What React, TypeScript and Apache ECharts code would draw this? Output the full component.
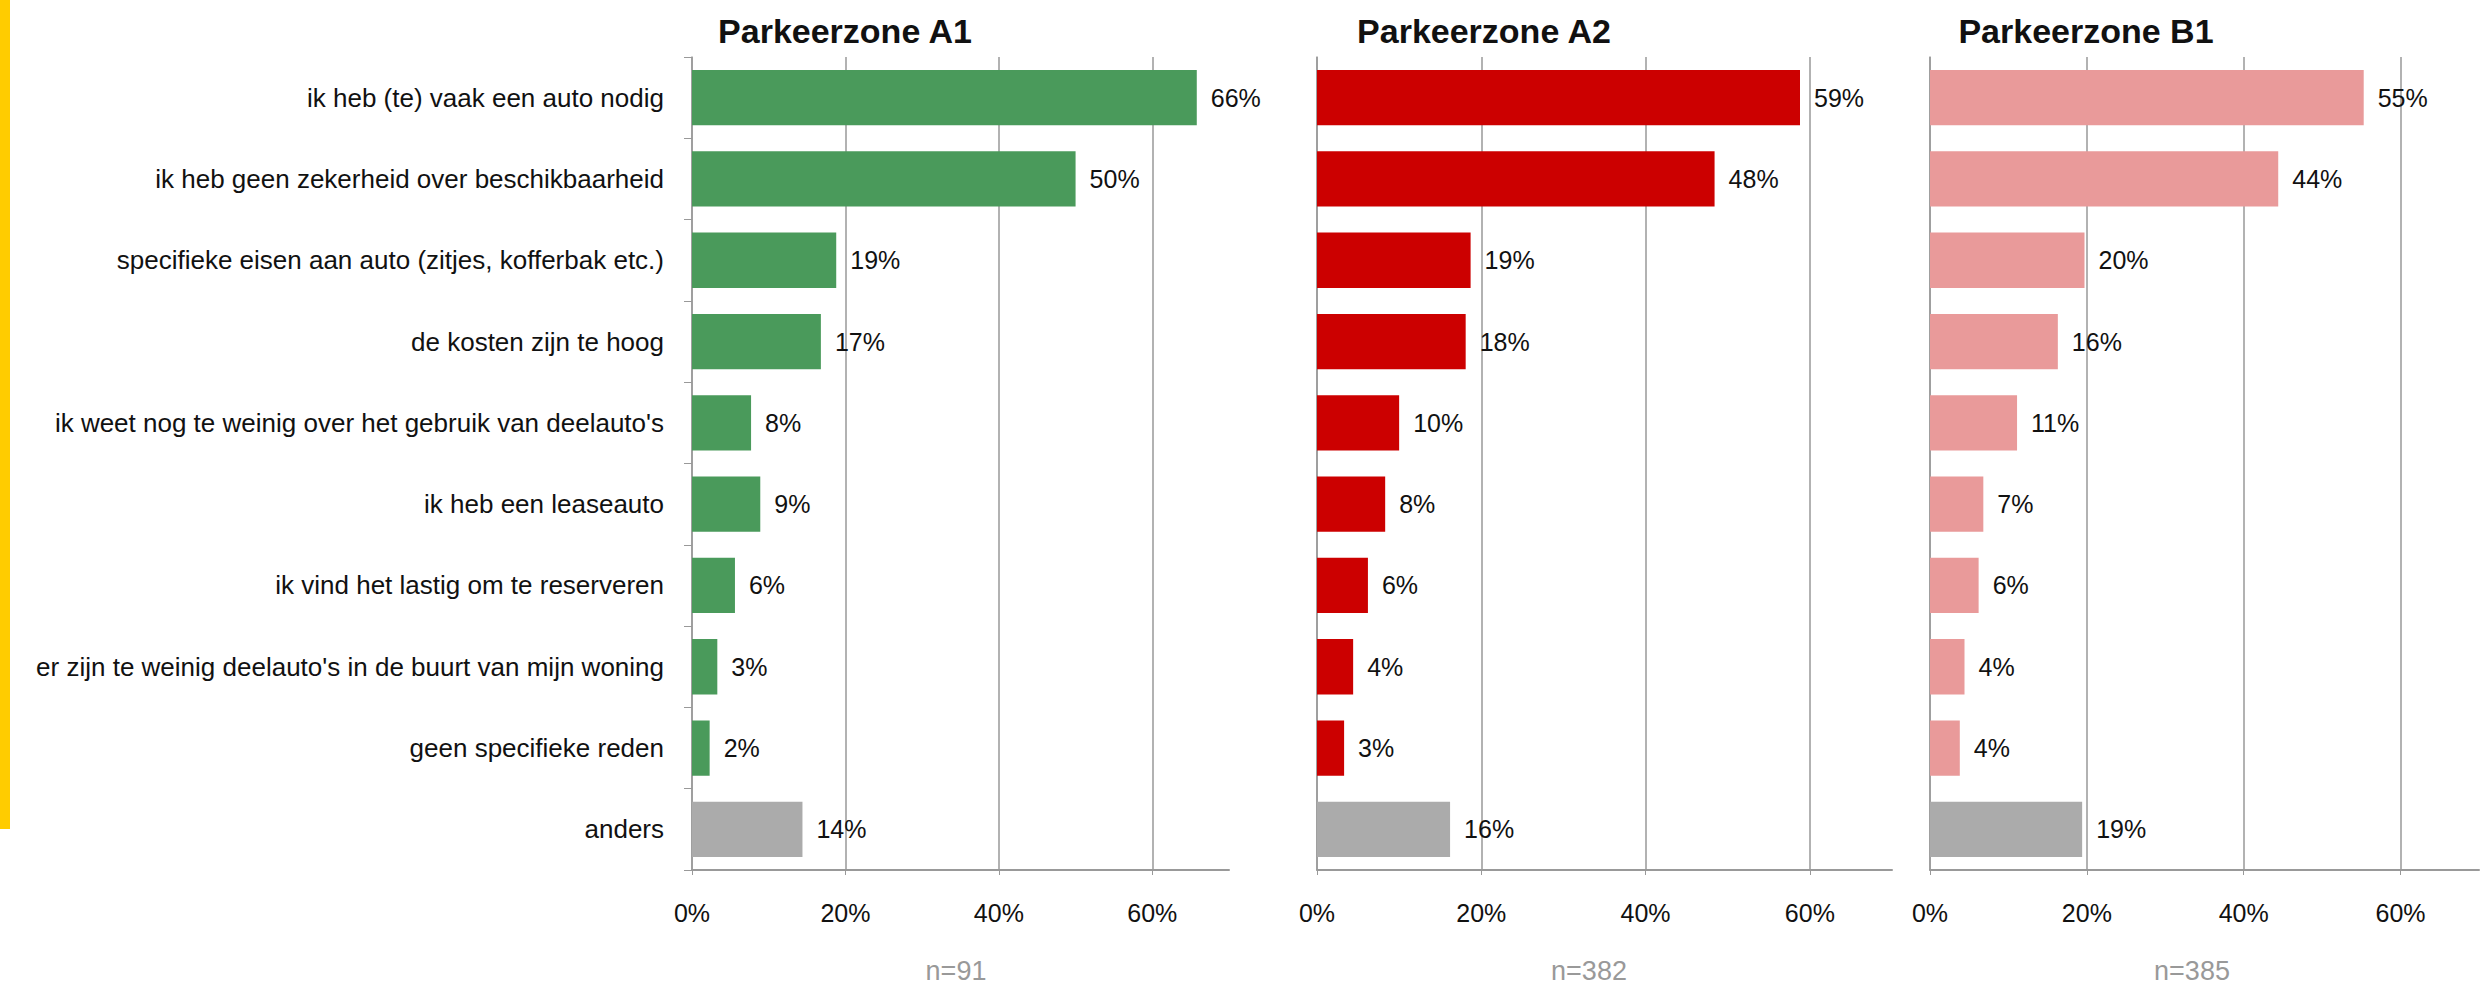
import React, { useEffect, useRef } from "react";
import * as echarts from "echarts";

const categories = [
  "ik heb (te) vaak een auto nodig",
  "ik heb geen zekerheid over beschikbaarheid",
  "specifieke eisen aan auto (zitjes, kofferbak etc.)",
  "de kosten zijn te hoog",
  "ik weet nog te weinig over het gebruik van deelauto's",
  "ik heb een leaseauto",
  "ik vind het lastig om te reserveren",
  "er zijn te weinig deelauto's in de buurt van mijn woning",
  "geen specifieke reden",
  "anders",
];

const zoneA1 = [65.8, 50.0, 18.8, 16.8, 7.7, 8.9, 5.6, 3.3, 2.3, 14.4];
const zoneA2 = [58.8, 48.4, 18.7, 18.1, 10.0, 8.3, 6.2, 4.4, 3.3, 16.2];
const zoneB1 = [55.3, 44.4, 19.7, 16.3, 11.1, 6.8, 6.2, 4.4, 3.8, 19.4];

const titles = ["Parkeerzone A1", "Parkeerzone A2", "Parkeerzone B1"];
const sampleSizes = ["n=91", "n=382", "n=385"];
const xTicks = [0, 20, 40, 60];

const FONT = "Liberation Sans, Arial, sans-serif";

export default function App() {
  const ref = useRef<HTMLDivElement>(null);

  useEffect(() => {
    if (!ref.current) return;
    const chart = echarts.init(ref.current, null, { renderer: "svg" });

    const panels = [
      { data: zoneA1, color: "#4a9a5b", left: 692, width: 537, titleX: 845, nX: 956 },
      { data: zoneA2, color: "#cc0000", left: 1317, width: 575, titleX: 1484, nX: 1589 },
      { data: zoneB1, color: "#e99a9a", left: 1930, width: 549, titleX: 2086, nX: 2192 },
    ];
    const top = 57;
    const height = 813;

    const grid = panels.map((p) => ({ left: p.left, width: p.width, top, height, containLabel: false }));

    const xAxis = panels.map((p, i) => ({
      type: "value",
      gridIndex: i,
      min: 0,
      max: 70,
      interval: 20,
      axisLine: { show: true, lineStyle: { color: "#999", width: 2 } },
      axisTick: { show: true, length: 5, lineStyle: { color: "#999" } },
      axisLabel: {
        show: true,
        showMaxLabel: false,
        margin: 30,
        fontSize: 25,
        fontFamily: FONT,
        color: "#111",
        formatter: (v: number) => (xTicks.includes(v) ? v + "%" : ""),
      },
      splitLine: { show: true, showMaxLine: false, lineStyle: { color: "#999", width: 1.5 } },
    }));

    const yAxis = panels.map((p, i) => ({
      type: "category",
      gridIndex: i,
      data: categories,
      inverse: true,
      axisLine: { show: true, lineStyle: { color: "#999", width: 1.5 } },
      axisTick: { show: i === 0, length: 8, lineStyle: { color: "#999" } },
      axisLabel: {
        show: i === 0,
        margin: 28,
        fontSize: 26,
        fontFamily: FONT,
        color: "#111",
      },
    }));

    const series = panels.map((p, i) => ({
      type: "bar",
      xAxisIndex: i,
      yAxisIndex: i,
      barWidth: "68%",
      data: p.data.map((v, j) => ({
        value: v,
        itemStyle: { color: j === categories.length - 1 ? "#ababab" : p.color },
      })),
      label: {
        show: true,
        position: "right",
        distance: 14,
        fontSize: 25,
        fontFamily: FONT,
        color: "#111",
        formatter: (params: any) => Math.round(params.value) + "%",
      },
    }));

    const graphic: any[] = [
      { type: "rect", left: 0, top: 0, shape: { width: 10, height: 829 }, style: { fill: "#ffcc00" } },
    ];
    panels.forEach((p, i) => {
      graphic.push({
        type: "text",
        x: p.titleX,
        y: 31,
        style: {
          text: titles[i],
          fontSize: 34,
          fontWeight: "bold",
          fontFamily: FONT,
          fill: "#111",
          textAlign: "center",
          textVerticalAlign: "middle",
        },
      });
      graphic.push({
        type: "text",
        x: p.nX,
        y: 971,
        style: {
          text: sampleSizes[i],
          fontSize: 27,
          fontFamily: FONT,
          fill: "#999",
          textAlign: "center",
          textVerticalAlign: "middle",
        },
      });
    });

    chart.setOption({
      animation: false,
      backgroundColor: "#fff",
      grid,
      xAxis,
      yAxis,
      series,
      graphic,
    } as any);

    return () => chart.dispose();
  }, []);

  return (
    <div
      ref={ref}
      style={{ position: "absolute", left: 0, top: 0, width: 2489, height: 990 }}
    />
  );
}
